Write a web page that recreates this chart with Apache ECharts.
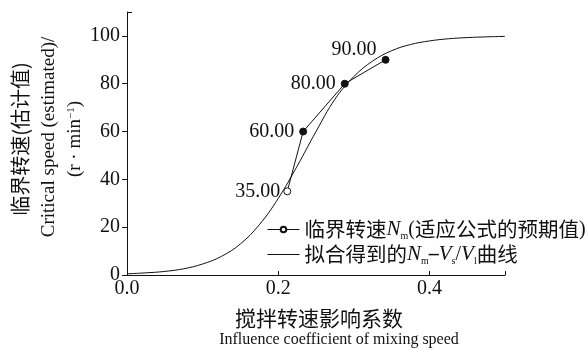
<!DOCTYPE html>
<html><head><meta charset="utf-8">
<script src="https://cdn.jsdelivr.net/npm/echarts@6/dist/echarts.min.js"></script>
<style>html,body{margin:0;padding:0;background:#fff}#c{width:585px;height:350px}</style>
</head><body><div id="c"></div>
<script>
// measured points (critical speed N_m)
const pointX = [0.212, 0.233, 0.288, 0.342];
const pointY = [35, 60, 80, 90];
const pointLabels = ['35.00', '60.00', '80.00', '90.00'];
// fitted curve
const curveX = [0, 0.025, 0.05, 0.075, 0.1, 0.125, 0.15, 0.175, 0.2, 0.225, 0.25, 0.275, 0.3, 0.325, 0.35, 0.375, 0.4, 0.425, 0.45, 0.475, 0.5];
const curveY = [0.5, 0.9, 1.5, 2.6, 4.6, 7.8, 13, 21, 32, 45.5, 60, 73.5, 83, 89.5, 93.8, 96.4, 97.9, 98.8, 99.3, 99.6, 99.8];
const xTickValues = [0, 0.2, 0.4, 0.5];
const xLabelValues = [0, 0.2, 0.4];
const yTickValues = [0, 20, 40, 60, 80, 100];

const serif = 'Liberation Serif';
const cjk = 'Noto Sans CJK SC';
const ink = '#111';
const chart = echarts.init(document.getElementById('c'), null, {renderer: 'canvas'});

const ptData = pointX.map((x, i) => {
  const d = {value: [x, pointY[i]], label: {formatter: pointLabels[i]}};
  if (i > 0) d.itemStyle = {color: ink, borderColor: ink};
  if (i === 0) d.label.distance = 3;
  if (i === 3) d.label.offset = [0, -10];
  return d;
});

const legendText = {
  color: ink, fontFamily: cjk, fontSize: 20.5,
  rich: {
    i: {fontFamily: serif, fontStyle: 'italic', fontSize: 21, color: ink},
    sub: {fontFamily: serif, fontSize: 10, color: ink, verticalAlign: 'bottom', padding: [14, 0, 0, 0]},
    p: {fontFamily: serif, fontSize: 20, color: ink},
    d: {fontFamily: serif, fontSize: 20, fontWeight: 'bold', color: ink}
  }
};
const legendBase = {
  orient: 'vertical', left: 262, itemWidth: 32, itemHeight: 7, textStyle: legendText,
  lineStyle: {width: 1, color: ink}
};

chart.setOption({
  animation: false,
  backgroundColor: '#fff',
  grid: {left: 127, right: 80, top: 12, bottom: 75},
  xAxis: {
    type: 'value', min: 0, max: 0.5,
    splitLine: {show: false},
    axisLine: {lineStyle: {color: ink, width: 1}},
    axisTick: {inside: true, length: 4, customValues: xTickValues, lineStyle: {color: ink}},
    axisLabel: {
      color: ink, fontFamily: serif, fontSize: 20, margin: 4,
      customValues: xLabelValues, formatter: v => v.toFixed(1)
    }
  },
  yAxis: [{
    type: 'value', min: 0, max: 110,
    splitLine: {show: false},
    axisLine: {show: true, lineStyle: {color: ink, width: 1}},
    axisTick: {show: true, length: 5, customValues: yTickValues, lineStyle: {color: ink}},
    axisLabel: {color: ink, fontFamily: serif, fontSize: 20, margin: 7, customValues: yTickValues}
  }, {
    type: 'value', min: 0, max: 110, position: 'left', offset: 0,
    splitLine: {show: false},
    axisLine: {show: false},
    axisTick: {show: true, inside: true, length: 5, customValues: [110], lineStyle: {color: ink}},
    axisLabel: {show: false}
  }],
  legend: [
    Object.assign({}, legendBase, {top: 214, data: ['pts'],
      formatter: () => '临界转速{i|N}{sub|m}{p|(}适应公式的预期值{p|)}'}),
    Object.assign({}, legendBase, {top: 239, data: ['fit'],
      formatter: () => '拟合得到的{i|N}{sub|m}{d|–}{i|V}{sub|s}{p|/}{i|V}{sub|l}曲线'})
  ],
  series: [
    {
      name: 'fit', type: 'line', smooth: 0.4, showSymbol: false, symbol: 'none',
      data: curveX.map((x, i) => [x, curveY[i]]),
      lineStyle: {color: ink, width: 1}, itemStyle: {color: 'rgba(0,0,0,0)', borderColor: 'rgba(0,0,0,0)'}, z: 2
    },
    {
      name: 'pts', type: 'line', symbol: 'circle', symbolSize: 7,
      data: ptData,
      lineStyle: {color: ink, width: 1},
      itemStyle: {color: '#fff', borderColor: ink, borderWidth: 1},
      label: {show: true, position: 'left', distance: 5, color: ink, fontFamily: serif, fontSize: 20},
      z: 3
    }
  ],
  graphic: [
    {type: 'text', x: 20, y: 139, rotation: Math.PI / 2,
     style: {text: '临界转速(估计值)', font: '20px "Noto Sans CJK SC"', fill: ink, align: 'center', verticalAlign: 'middle'}},
    {type: 'text', x: 49, y: 137, rotation: Math.PI / 2,
     style: {text: 'Critical speed (estimated)/', font: '19px "Liberation Serif"', fill: ink, align: 'center', verticalAlign: 'middle'}},
    {type: 'text', x: 75, y: 139, rotation: Math.PI / 2,
     style: {text: '(r · min{s|−1})', fill: ink, align: 'center', verticalAlign: 'middle', font: '19px "Liberation Serif"',
       rich: {s: {fontFamily: serif, fontSize: 11, fill: ink, verticalAlign: 'top', padding: [0, 0, 8, 0]}}}},
    {type: 'text', x: 319, y: 318,
     style: {text: '搅拌转速影响系数', font: '21px "Noto Sans CJK SC"', fill: ink, align: 'center', verticalAlign: 'middle'}},
    {type: 'text', x: 339, y: 340,
     style: {text: 'Influence coefficient of mixing speed', font: '16px "Liberation Serif"', fill: ink, align: 'center', verticalAlign: 'middle'}}
  ]
});
</script></body></html>
